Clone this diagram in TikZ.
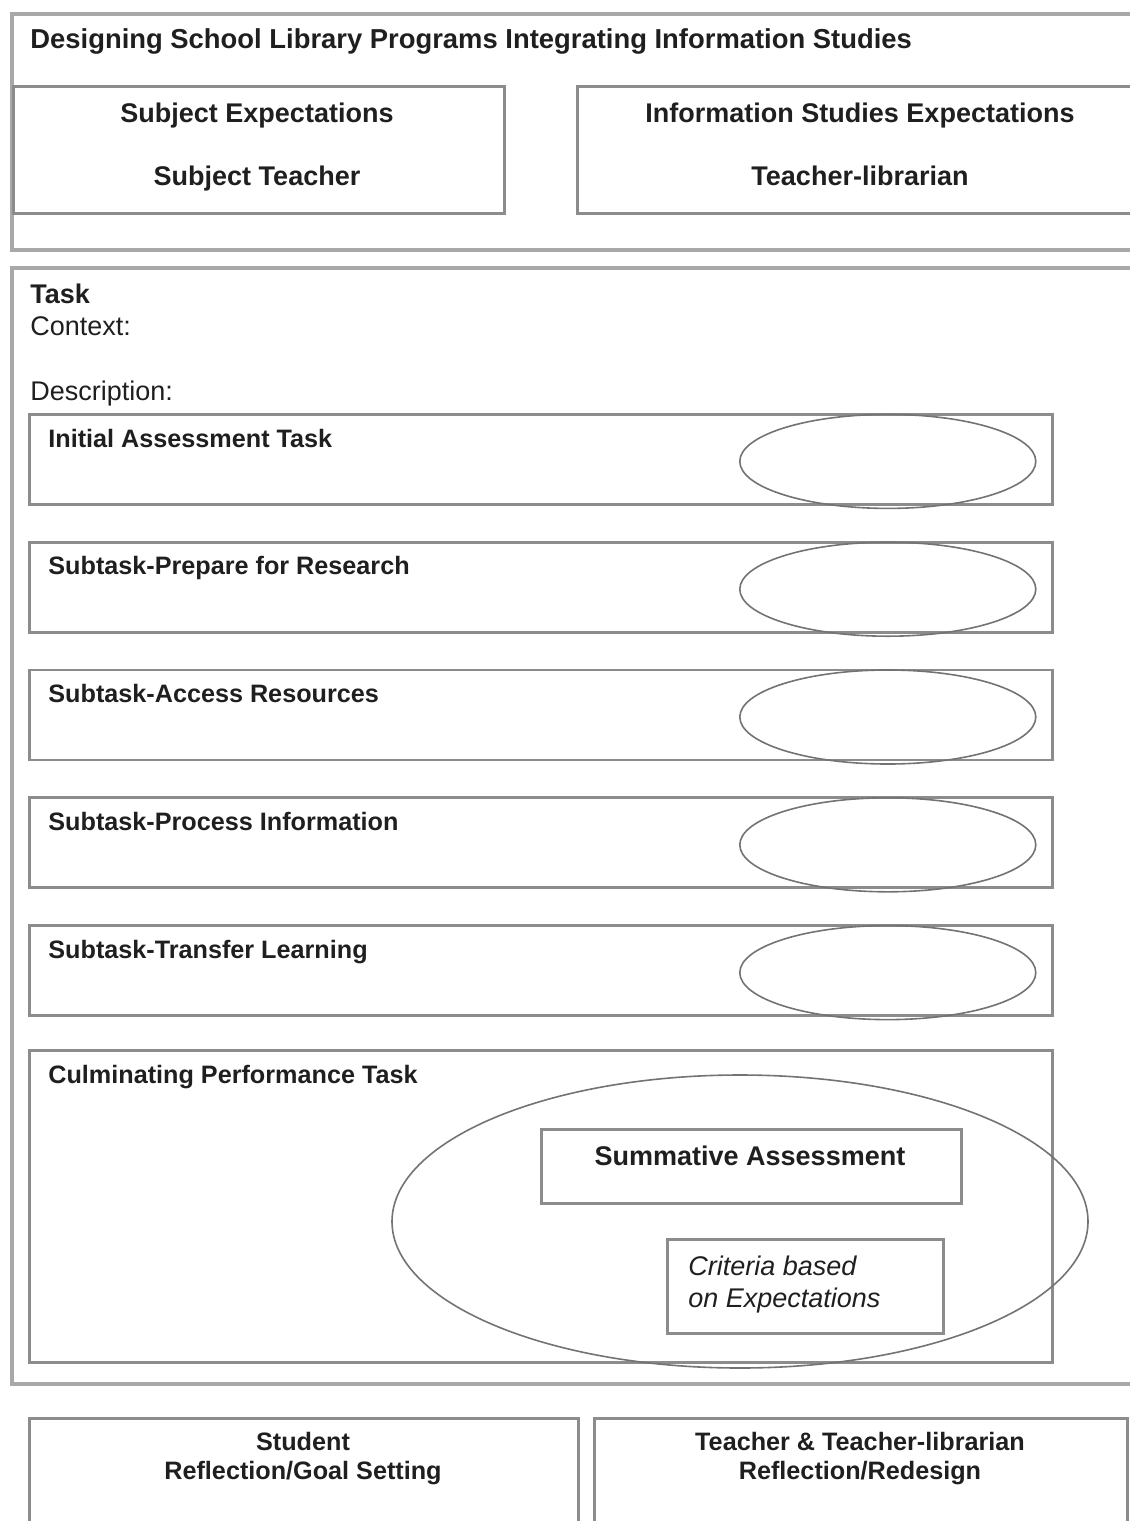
\documentclass[tikz,border=0pt]{standalone}
\usepackage{fontspec}
\setmainfont{Liberation Sans}
\usetikzlibrary{positioning}
\usetikzlibrary{shapes.geometric}
\definecolor{framegray}{gray}{0.66}
\definecolor{boxgray}{gray}{0.55}
\definecolor{ovalgray}{gray}{0.45}

\begin{document}
\begin{tikzpicture}
	[x=0.5pt,y=-0.5pt,
	 every node/.style={font=\fontsize{13.5}{16}\selectfont,text=black!88},
	 frame/.style={rectangle,draw=framegray,line width=1.8pt,anchor=north west,inner sep=0pt},
	 box/.style={rectangle,draw=boxgray,line width=1.4pt,inner sep=0pt},
	 subbox/.style={box,minimum width=511.5pt,minimum height=45pt},
	 oval/.style={ellipse,draw=ovalgray,line width=0.8pt,inner sep=0pt},
	 head/.style={font=\fontsize{13.7}{16}\selectfont\bfseries,anchor=base west,inner sep=0pt},
	 sublab/.style={font=\fontsize{12.6}{15}\selectfont\bfseries,anchor=base west,inner sep=0pt},
	 plain/.style={anchor=base west,inner sep=0pt},
	 title/.style={font=\fontsize{13.5}{14.5}\selectfont\bfseries,align=center,anchor=base,inner sep=0pt},
	 reflab/.style={font=\fontsize{12.6}{14.5}\selectfont\bfseries,align=center,anchor=north,inner sep=0pt}]
	\useasboundingbox (0,0) rectangle (1130,1521);
	\clip (0,0) rectangle (1130,1521);
	% top frame
	\node[frame,minimum width=600pt,minimum height=118pt] (plan) at (10,12) {};
	\node[head] (plantitle) at (30,48) {Designing School Library Programs Integrating Information Studies};
	\node[box,anchor=north west,minimum width=245.5pt,minimum height=63.5pt] (subj) at (12,85) {};
	\node[title] (subjexp) at (257,122) {Subject Expectations};
	\node[title] (subjteach) at (257,185) {Subject Teacher};
	\node[box,anchor=north west,minimum width=284pt,minimum height=63.5pt] (info) at (576,85) {};
	\node[title] (infoexp) at (860,122) {Information Studies Expectations};
	\node[title] (infoteach) at (860,185) {Teacher-librarian};
	% task frame
	\node[frame,minimum width=600pt,minimum height=558pt] (task) at (10,266) {};
	\node[head,font=\fontsize{13.5}{16}\selectfont\bfseries] (tasklab) at (30,303) {Task};
	\node[plain] (context) at (30,335) {Context:};
	\node[plain] (descr) at (30,400) {Description:};
	\node[subbox,anchor=north west] (sub1) at (28,413) {};
	\node[subbox] (sub2) [below=17.5pt of sub1] {};
	\node[subbox] (sub3) [below=17.5pt of sub2] {};
	\node[subbox] (sub4) [below=17.5pt of sub3] {};
	\node[subbox] (sub5) [below=17.5pt of sub4] {};
	\node[subbox,minimum height=156pt] (cul) [below=16pt of sub5] {};
	\node[sublab] (sub1lab) at ([shift={(10pt,-17pt)}]sub1.north west) {Initial Assessment Task};
	\node[sublab] (sub2lab) at ([shift={(10pt,-17pt)}]sub2.north west) {Subtask-Prepare for Research};
	\node[sublab] (sub3lab) at ([shift={(10pt,-17pt)}]sub3.north west) {Subtask-Access Resources};
	\node[sublab] (sub4lab) at ([shift={(10pt,-17pt)}]sub4.north west) {Subtask-Process Information};
	\node[sublab] (sub5lab) at ([shift={(10pt,-17pt)}]sub5.north west) {Subtask-Transfer Learning};
	\node[sublab] (cullab) at ([shift={(10pt,-17pt)}]cul.north west) {Culminating Performance Task};
	\node[oval,minimum width=148pt,minimum height=47pt] (ov1) at ([xshift=-83pt,yshift=-1pt]sub1.east) {};
	\node[oval,minimum width=148pt,minimum height=47pt] (ov2) at ([xshift=-83pt,yshift=-1pt]sub2.east) {};
	\node[oval,minimum width=148pt,minimum height=47pt] (ov3) at ([xshift=-83pt,yshift=-1pt]sub3.east) {};
	\node[oval,minimum width=148pt,minimum height=47pt] (ov4) at ([xshift=-83pt,yshift=-1pt]sub4.east) {};
	\node[oval,minimum width=148pt,minimum height=47pt] (ov5) at ([xshift=-83pt,yshift=-1pt]sub5.east) {};
	% summative assessment
	\node[oval,minimum width=348pt,minimum height=146.5pt] (bigov) at (740,1221.5) {};
	\node[box,anchor=north west,minimum width=210pt,minimum height=37pt] (summ) at (540,1128) {};
	\node[title] (summlab) at (750,1165) {Summative Assessment};
	\node[box,anchor=north west,minimum width=138pt,minimum height=47pt] (crit) at (666,1238) {};
	\node[font=\fontsize{13.5}{16}\selectfont\itshape,align=left,anchor=north west,inner sep=0pt] (critlab) at (688,1256) {Criteria based\\on Expectations};
	% reflection
	\node[box,anchor=north west,minimum width=274.5pt,minimum height=80pt] (stud) at (28,1417) {};
	\node[reflab] (studlab) at (303,1432) {Student\\Reflection/Goal Setting};
	\node[box,anchor=north west,minimum width=266.5pt,minimum height=80pt] (teach) at (593,1417) {};
	\node[reflab] (teachlab) at (860,1432) {Teacher \& Teacher-librarian\\Reflection/Redesign};
\end{tikzpicture}
\end{document}
